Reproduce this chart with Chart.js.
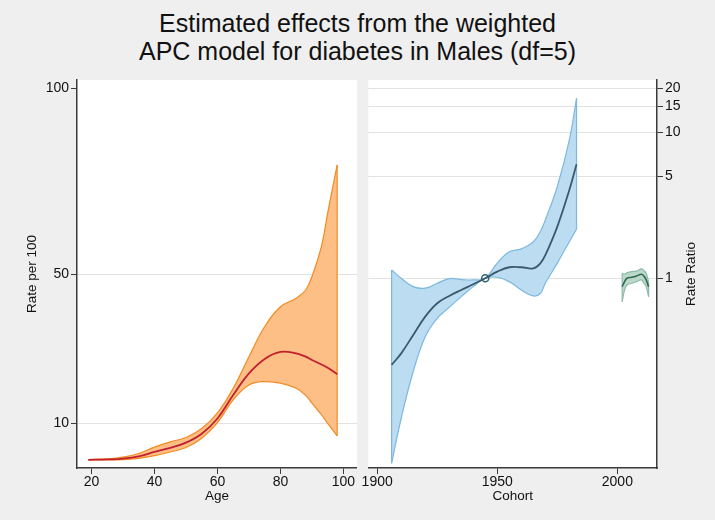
<!DOCTYPE html>
<html>
<head>
<meta charset="utf-8">
<title>APC model - diabetes in Males</title>
<script src="https://cdn.jsdelivr.net/npm/chart.js@4.4.1/dist/chart.umd.min.js"></script>
<style>
  html, body { margin: 0; padding: 0; }
  body {
    width: 715px; height: 520px; background: #efefef;
    position: relative; overflow: hidden;
    font-family: "Liberation Sans", Arial, sans-serif;
  }
  #title {
    position: absolute; left: 0; top: 10px; width: 715px;
    text-align: center; font-size: 25px; line-height: 27.5px; color: #111;
  }
  canvas { position: absolute; top: 70px; }
  #ageChart { left: 0; }
  #cohortChart { left: 362px; }
</style>
</head>
<body>
<div id="title">Estimated effects from the weighted<br>APC model for diabetes in Males (df=5)</div>
<canvas id="ageChart" width="357" height="450"></canvas>
<canvas id="cohortChart" width="353" height="450"></canvas>
<script>
// Age effect (rate per 100)
const ages      = [19, 25, 30, 35, 40, 45, 50, 55, 60, 65, 70, 75, 80, 85, 88, 90, 93, 95, 98];
const ageRate   = [0.2, 0.3, 0.5, 1.1, 2.3, 3.4, 4.8, 7.2, 11.3, 17.6, 23.4, 27.3, 29.2, 28.8, 27.9, 27.0, 25.8, 24.9, 23.2];
const ageLower  = [0.15, 0.2, 0.25, 0.6, 1.3, 2.3, 3.5, 6.0, 10.2, 16.3, 20.3, 21.2, 20.8, 19.4, 17.5, 15.4, 12.3, 10.0, 6.6];
const ageUpper  = [0.25, 0.45, 0.9, 1.9, 3.6, 5.0, 6.2, 8.6, 12.8, 19.4, 27.9, 36.0, 41.3, 43.6, 45.8, 49.4, 57.5, 66.5, 79.4];
const ageTicks  = [20, 40, 60, 80, 100];
const rateTicks = [10, 50, 100];

// Cohort effect (rate ratio)
const cohorts     = [1906, 1910, 1915, 1920, 1925, 1930, 1935, 1940, 1945, 1950, 1955, 1960, 1965, 1968, 1970, 1975, 1980, 1983];
const cohortRR    = [0.255, 0.306, 0.409, 0.546, 0.674, 0.757, 0.832, 0.91, 1.0, 1.11, 1.19, 1.19, 1.17, 1.27, 1.44, 2.26, 4.03, 6.04];
const cohortLower = [0.054, 0.11, 0.23, 0.398, 0.532, 0.633, 0.749, 0.877, 1.0, 1.016, 0.949, 0.832, 0.757, 0.79, 0.924, 1.27, 1.78, 2.17];
const cohortUpper = [1.14, 1.0, 0.877, 0.855, 0.924, 0.995, 0.98, 0.974, 1.0, 1.27, 1.52, 1.59, 1.78, 2.1, 2.51, 4.25, 8.86, 17.1];
const refCohort   = [1945];
const refRR       = [1];

// Period effect (rate ratio)
const periods     = [2002, 2003, 2004, 2006, 2008, 2010, 2011, 2012, 2013];
const periodRR    = [0.876, 0.949, 1.0, 1.016, 1.037, 1.065, 1.037, 0.974, 0.876];
const periodLower = [0.69, 0.83, 0.9, 0.924, 0.949, 0.974, 0.93, 0.877, 0.748];
const periodUpper = [1.08, 1.07, 1.09, 1.11, 1.12, 1.16, 1.13, 1.08, 0.948];

const cohortTicks = [1900, 1950, 2000];
const rrTicks     = [1, 5, 10, 15, 20];

Chart.defaults.font.family = '"Liberation Sans", Arial, sans-serif';
Chart.defaults.font.size = 14;
Chart.defaults.color = '#111';

const axisColor = '#3a3a3a';
const gridColor = '#e2e2e2';
const titleFont = { size: 13.5 };

const pts = (xs, ys) => xs.map((x, i) => ({ x: x, y: ys[i] }));
const fixTicks = list => scale => { scale.ticks = list.map(v => ({ value: v })); };

// confidence band: upper line filled down to lower line, plus the two end edges
function band(xs, lo, hi, line, fill) {
    const edge = i => ({
        data: [{ x: xs[i], y: hi[i] }, { x: xs[i], y: lo[i] }],
        borderColor: line, borderWidth: 1.2, pointRadius: 0, tension: 0, fill: false
    });
    return [
        { data: pts(xs, hi), borderColor: line, backgroundColor: fill, fill: '+1', borderWidth: 1.2, pointRadius: 0 },
        { data: pts(xs, lo), borderColor: line, borderWidth: 1.2, pointRadius: 0, fill: false },
        edge(0),
        edge(xs.length - 1)
    ];
}

const plotBg = {
    id: 'plotBg',
    beforeDraw(chart) {
        const a = chart.chartArea;
        chart.ctx.save();
        chart.ctx.fillStyle = '#ffffff';
        chart.ctx.fillRect(a.left, a.top, a.right - a.left, a.bottom - a.top);
        chart.ctx.restore();
    }
};

// right-hand axis title, reading bottom to top like the left one
const rightTitle = {
    id: 'rightTitle',
    afterDraw(chart) {
        const { ctx, chartArea } = chart;
        ctx.save();
        ctx.translate(chart.width - 23.3, (chartArea.top + chartArea.bottom) / 2);
        ctx.rotate(-Math.PI / 2);
        ctx.font = '13.5px "Liberation Sans", Arial, sans-serif';
        ctx.fillStyle = '#111';
        ctx.textAlign = 'center';
        ctx.textBaseline = 'middle';
        ctx.fillText('Rate Ratio', 0, 0);
        ctx.restore();
    }
};

const basePlugins = {
    legend: { display: false },
    tooltip: { enabled: false },
    filler: { drawTime: 'beforeDatasetsDraw' }
};

function xAxis(min, max, ticks, label) {
    return {
        type: 'linear', min: min, max: max,
        afterBuildTicks: fixTicks(ticks),
        afterFit: s => { s.height = 52; s.paddingLeft = 0; s.paddingRight = 0; },
        border: { color: axisColor, width: 1.5 },
        grid: { drawOnChartArea: false, tickLength: 6, tickColor: axisColor },
        ticks: { padding: 0, maxRotation: 0, autoSkip: false, callback: v => String(v) },
        title: { display: true, text: label, font: titleFont, padding: { top: 0, bottom: 15.5 } }
    };
}

// Left panel: age effect
new Chart(document.getElementById('ageChart'), {
    type: 'line',
    data: {
        datasets: [
            { data: pts(ages, ageRate), borderColor: '#c1202d', borderWidth: 1.8, pointRadius: 0, fill: false },
            ...band(ages, ageLower, ageUpper, '#f28a20', '#fdbf86')
        ]
    },
    options: {
        responsive: false,
        animation: false,
        layout: { padding: { top: 10, left: 0, right: 0, bottom: 0 }, autoPadding: false },
        plugins: basePlugins,
        elements: { line: { tension: 0.4 } },
        scales: {
            x: xAxis(15.4, 104.3, ageTicks, 'Age'),
            y: {
                type: 'linear', min: -2, max: 102.2,
                afterBuildTicks: fixTicks(rateTicks),
                afterFit: s => { s.width = 77; s.paddingTop = 0; s.paddingBottom = 0; },
                border: { color: axisColor, width: 1.5 },
                grid: {
                    color: c => (c.tick && c.tick.value === 100) ? 'rgba(0,0,0,0)' : gridColor,
                    tickLength: 6, tickColor: axisColor
                },
                ticks: { padding: 2, autoSkip: false },
                title: { display: true, text: 'Rate per 100', font: titleFont, padding: { top: 24, bottom: 0 } }
            }
        }
    },
    plugins: [plotBg]
});

// Right panel: cohort and period effects
new Chart(document.getElementById('cohortChart'), {
    type: 'line',
    data: {
        datasets: [
            { data: pts(cohorts, cohortRR), borderColor: '#3a596d', borderWidth: 1.8, pointRadius: 0, fill: false },
            { data: pts(periods, periodRR), borderColor: '#2d6b54', borderWidth: 1.6, pointRadius: 0, fill: false },
            { data: pts(refCohort, refRR), showLine: false, pointRadius: 3.5, pointBorderWidth: 1.5,
              pointBorderColor: '#2b6a6a', pointBackgroundColor: 'rgba(0,0,0,0)' },
            ...band(cohorts, cohortLower, cohortUpper, '#7cb8e0', '#bcdcf1'),
            ...band(periods, periodLower, periodUpper, '#8dbba6', '#bcd8ca')
        ]
    },
    options: {
        responsive: false,
        animation: false,
        layout: { padding: { top: 10, left: 6.3, right: 0, bottom: 0 }, autoPadding: false },
        plugins: basePlugins,
        elements: { line: { tension: 0.4 } },
        scales: {
            x: xAxis(1896.3, 2016.5, cohortTicks, 'Cohort'),
            y: {
                type: 'logarithmic', position: 'right', min: 0.0502, max: 22.8,
                afterBuildTicks: fixTicks(rrTicks),
                afterFit: s => { s.width = 58; s.paddingTop = 0; s.paddingBottom = 0; },
                border: { color: axisColor, width: 1.5 },
                grid: { color: gridColor, tickLength: 6, tickColor: axisColor },
                ticks: { padding: 2, autoSkip: false, callback: v => String(v) }
            }
        }
    },
    plugins: [plotBg, rightTitle]
});
</script>
</body>
</html>
